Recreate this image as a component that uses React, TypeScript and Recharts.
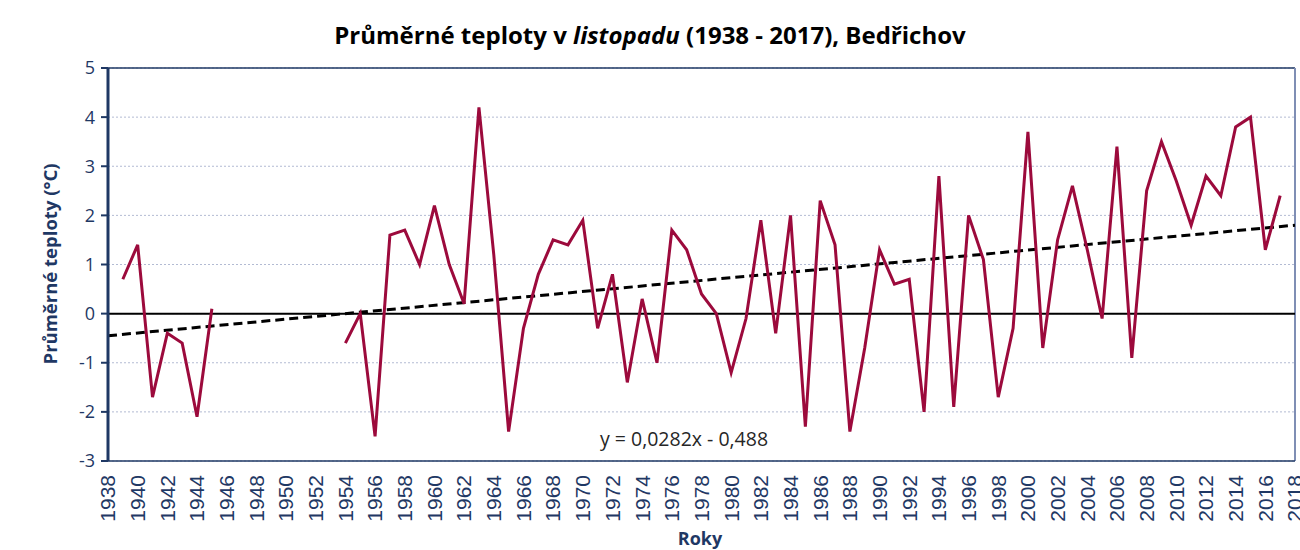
import { CartesianGrid, Line, LineChart, ReferenceLine, XAxis, YAxis } from "recharts";

const YEARS = [
  1938, 1939, 1940, 1941, 1942, 1943, 1944, 1945, 1946, 1947,
  1948, 1949, 1950, 1951, 1952, 1953, 1954, 1955, 1956, 1957,
  1958, 1959, 1960, 1961, 1962, 1963, 1964, 1965, 1966, 1967,
  1968, 1969, 1970, 1971, 1972, 1973, 1974, 1975, 1976, 1977,
  1978, 1979, 1980, 1981, 1982, 1983, 1984, 1985, 1986, 1987,
  1988, 1989, 1990, 1991, 1992, 1993, 1994, 1995, 1996, 1997,
  1998, 1999, 2000, 2001, 2002, 2003, 2004, 2005, 2006, 2007,
  2008, 2009, 2010, 2011, 2012, 2013, 2014, 2015, 2016, 2017,
];

// průměrná listopadová teplota (°C), null = chybí měření
const TEMPS: (number | null)[] = [
  null, 0.7, 1.4, -1.7, -0.4, -0.6, -2.1, 0.1, null, null,
  null, null, null, null, null, null, -0.6, 0.0, -2.5, 1.6,
  1.7, 1.0, 2.2, 1.0, 0.2, 4.2, 1.2, -2.4, -0.3, 0.8,
  1.5, 1.4, 1.9, -0.3, 0.8, -1.4, 0.3, -1.0, 1.7, 1.3,
  0.4, 0.0, -1.2, -0.1, 1.9, -0.4, 2.0, -2.3, 2.3, 1.4,
  -2.4, -0.7, 1.3, 0.6, 0.7, -2.0, 2.8, -1.9, 2.0, 1.1,
  -1.7, -0.3, 3.7, -0.7, 1.5, 2.6, 1.3, -0.1, 3.4, -0.9,
  2.5, 3.5, 2.7, 1.8, 2.8, 2.4, 3.8, 4.0, 1.3, 2.4,
];

const X_TICKS = [
  1938, 1940, 1942, 1944, 1946, 1948, 1950, 1952, 1954, 1956,
  1958, 1960, 1962, 1964, 1966, 1968, 1970, 1972, 1974, 1976,
  1978, 1980, 1982, 1984, 1986, 1988, 1990, 1992, 1994, 1996,
  1998, 2000, 2002, 2004, 2006, 2008, 2010, 2012, 2014, 2016, 2018,
];
const Y_TICKS = [-3, -2, -1, 0, 1, 2, 3, 4, 5];

// lineární trend y = 0,0282x - 0,488 (koncové body)
const TREND_YEARS = [1938, 2018];
const TREND_VALUES = [-0.45, 1.8];

const data = YEARS.map((year, i) => ({ year, temp: TEMPS[i] }));

const NAVY = "#1F3864";

function YearTick({ x, y, payload }: any) {
  return (
    <g transform={`translate(${x},${y})`}>
      <text
        x={0}
        y={0}
        dy="0.35em"
        textAnchor="end"
        transform="rotate(-90)"
        fill={NAVY}
        fontSize={21}
        fontFamily="'Liberation Sans Narrow', 'Liberation Sans', Arial, sans-serif"
      >
        {payload.value}
      </text>
    </g>
  );
}

export default function App() {
  return (
    <div style={{ position: "absolute", left: 0, top: 0, width: 1300, height: 550, background: "#fff", fontFamily: "'Open Sans', sans-serif" }}>
      <div style={{ position: "absolute", left: 0, top: 18, width: 1300, textAlign: "center", fontSize: 24, fontWeight: 700, color: "#000", whiteSpace: "nowrap" }}>
        Průměrné teploty v <i>listopadu</i> (1938 - 2017), Bedřichov
      </div>
      <div
        style={{
          position: "absolute",
          left: 49,
          top: 264,
          transform: "translate(-50%, -50%) rotate(-90deg)",
          whiteSpace: "nowrap",
          fontSize: 18.5,
          fontWeight: 700,
          color: NAVY,
        }}
      >
        Průměrné teploty (°C)
      </div>
      <div style={{ position: "absolute", left: 700, top: 538, transform: "translate(-50%, -50%)", fontSize: 18, fontWeight: 700, color: NAVY, lineHeight: "20px" }}>
        Roky
      </div>
      <div style={{ position: "absolute", left: 684, top: 438, transform: "translate(-50%, -50%)", fontSize: 19.5, color: "#262626", whiteSpace: "nowrap" }}>
        y = 0,0282x - 0,488
      </div>
      <LineChart width={1300} height={550} data={data} margin={{ top: 68, right: 5, bottom: 0, left: 0 }}>
        <CartesianGrid horizontal vertical={false} stroke="#b3bbd3" strokeDasharray="2 2" />
        <XAxis
          dataKey="year"
          type="number"
          domain={[1938, 2018]}
          ticks={X_TICKS}
          interval={0}
          height={89}
          tick={<YearTick />}
          tickLine={false}
          tickSize={0}
          tickMargin={14}
          axisLine={{ stroke: NAVY, strokeWidth: 1.5 }}
        />
        <YAxis
          type="number"
          domain={[-3, 5]}
          ticks={Y_TICKS}
          interval={0}
          width={108}
          tick={{ fill: NAVY, fontSize: 18, fontFamily: "'Open Sans', sans-serif" }}
          tickLine={{ stroke: NAVY, strokeWidth: 2 }}
          tickSize={7}
          tickMargin={6}
          axisLine={{ stroke: NAVY, strokeWidth: 3 }}
        />
        <ReferenceLine y={5} stroke={NAVY} strokeWidth={1.5} />
        <ReferenceLine x={2018} stroke="#7f8eb4" strokeWidth={2} />
        <ReferenceLine y={0} stroke="#000" strokeWidth={2} />
        <ReferenceLine
          segment={[
            { x: TREND_YEARS[0], y: TREND_VALUES[0] },
            { x: TREND_YEARS[1], y: TREND_VALUES[1] },
          ]}
          stroke="#000"
          strokeWidth={3}
          strokeDasharray="9 5"
          ifOverflow="visible"
        />
        <Line
          type="linear"
          dataKey="temp"
          stroke="#9C0A3C"
          strokeWidth={3}
          dot={false}
          connectNulls={false}
          isAnimationActive={false}
        />
      </LineChart>
    </div>
  );
}
